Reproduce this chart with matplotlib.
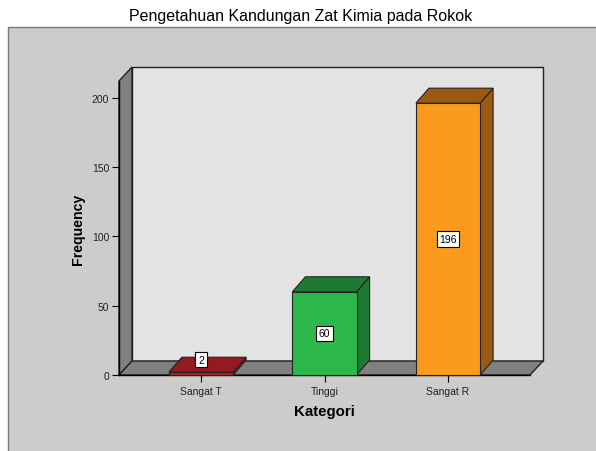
import numpy as np
import matplotlib
matplotlib.use("Agg")
import matplotlib.pyplot as plt
from matplotlib.patches import Polygon, Rectangle

plt.rcParams['font.family'] = ['Liberation Sans', 'DejaVu Sans']

# data
categories = ['Sangat T', 'Tinggi', 'Sangat R']
freq = [2, 60, 196]
front_colors = ['#B0212A', '#2DB84B', '#F99A1F']
dark_colors = ['#921B20', '#1E7A33', '#9A5A12']

W, H = 596, 452
fig = plt.figure(figsize=(W / 100, H / 100), dpi=100)

# grey chart panel
fig.add_artist(Rectangle((8 / W, -0.01), 1.0, (H - 28) / H + 0.01,
                         transform=fig.transFigure, fc='#CCCCCC', ec='#7A7A7A', lw=1,
                         zorder=-5))

ax = fig.add_axes([119 / W, 76 / H, 411 / W, 294 / H])
xmin, xmax = -0.664, 2.664
ymax = 212
ax.set_xlim(xmin, xmax)
ax.set_ylim(0, ymax)
ax.patch.set_visible(False)
for s in ['top', 'right']:
    ax.spines[s].set_visible(False)
ax.spines['left'].set_linewidth(1)
ax.spines['bottom'].set_linewidth(1)

# depth offset of the 3D frame (in data units)
ddx = 13 * (xmax - xmin) / 411
ddy = 14 * ymax / 294
bdy = 15 * ymax / 294

edge = '#222222'
# back wall
ax.add_patch(Rectangle((xmin + ddx, ddy), xmax - xmin, ymax, fc='#E3E3E3', ec=edge,
                       lw=1, clip_on=False, zorder=0.5))
# left wall
ax.add_patch(Polygon([(xmin, 0), (xmin, ymax), (xmin + ddx, ymax + ddy), (xmin + ddx, ddy)],
                     closed=True, fc='#808080', ec=edge, lw=1, clip_on=False, zorder=0.6))
# floor
ax.add_patch(Polygon([(xmin, 0), (xmax, 0), (xmax + ddx, ddy), (xmin + ddx, ddy)],
                     closed=True, fc='#808080', ec=edge, lw=1, clip_on=False, zorder=0.6))

bw = 0.52
xs = np.arange(len(categories))
for x, v, fc, dc in zip(xs, freq, front_colors, dark_colors):
    l, r = x - bw / 2, x + bw / 2
    # side
    ax.add_patch(Polygon([(r, 0), (r, v), (r + ddx, v + bdy), (r + ddx, bdy)], closed=True,
                         fc=dc, ec=edge, lw=0.8, clip_on=False, zorder=3))
    # top
    ax.add_patch(Polygon([(l, v), (r, v), (r + ddx, v + bdy), (l + ddx, v + bdy)], closed=True,
                         fc=dc, ec=edge, lw=0.8, clip_on=False, zorder=3))
    # front
    ax.add_patch(Rectangle((l, 0), bw, v, fc=fc, ec=edge, lw=0.8, clip_on=False, zorder=3.1))
    ax.text(x, max(v / 2, 11), str(v), ha='center', va='center', fontsize=7.5, zorder=5,
            bbox=dict(boxstyle='square,pad=0.25', fc='white', ec='black', lw=0.8))

ax.set_yticks([0, 50, 100, 150, 200])
ax.set_xticks(xs)
ax.set_xticklabels(categories)
ax.tick_params(axis='both', direction='out', length=5, width=0.8, labelsize=7.5,
               labelcolor='#222222', pad=2)
ax.tick_params(axis='x', pad=3)

ax.set_ylabel('Frequency', fontsize=10.2, fontweight='bold', labelpad=5)
ax.set_xlabel('Kategori', fontsize=10.8, fontweight='bold', labelpad=6)

fig.text(0.505, 1 - 17 / H, 'Pengetahuan Kandungan Zat Kimia pada Rokok', ha='center',
         va='center', fontsize=11.5)

fig.savefig('out.png', dpi=100)
